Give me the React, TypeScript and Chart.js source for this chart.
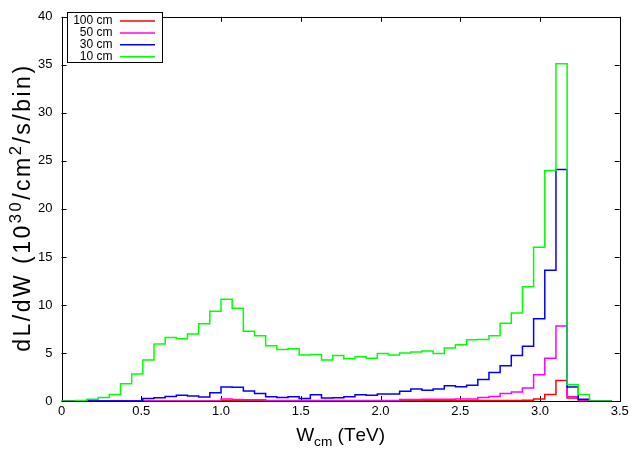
import { useEffect, useRef } from "react";
import { Chart, registerables } from "chart.js";
Chart.register(...registerables);

// Bin left edges (TeV); last entry closes the final bin
const binEdges = [
  0.02, 0.09, 0.16, 0.23, 0.3, 0.37, 0.44, 0.51, 0.58, 0.65,
  0.72, 0.79, 0.86, 0.93, 1.0, 1.07, 1.14, 1.21, 1.28, 1.35,
  1.42, 1.49, 1.56, 1.63, 1.7, 1.77, 1.84, 1.91, 1.98, 2.05,
  2.12, 2.19, 2.26, 2.33, 2.4, 2.47, 2.54, 2.61, 2.68, 2.75,
  2.82, 2.89, 2.96, 3.03, 3.1, 3.17, 3.24, 3.31, 3.38, 3.45,
];

const cm100 = [
  0, 0, 0, 0, 0, 0, 0, 0, 0, 0,
  0, 0, 0, 0, 0.05, 0.04, 0.03, 0.02, 0.02, 0.02,
  0.02, 0.02, 0.02, 0.02, 0.02, 0.02, 0.02, 0.02, 0.02, 0.02,
  0.02, 0.02, 0.03, 0.03, 0.03, 0.03, 0.04, 0.04, 0.05, 0.05,
  0.05, 0.08, 0.2, 0.68, 2.13, 0.3, 0.05, 0, 0,
];
const cm50 = [
  0, 0, 0, 0, 0, 0, 0, 0, 0, 0,
  0, 0, 0, 0, 0.22, 0.15, 0.12, 0.12, 0.05, 0.05,
  0.04, 0.04, 0.04, 0.04, 0.04, 0.05, 0.05, 0.05, 0.06, 0.06,
  0.15, 0.15, 0.17, 0.17, 0.18, 0.2, 0.22, 0.37, 0.47, 0.78,
  0.95, 1.36, 2.74, 4.44, 7.82, 0.44, 0.1, 0, 0,
];
const cm30 = [
  0, 0, 0, 0, 0, 0, 0, 0.25, 0.33, 0.47,
  0.6, 0.52, 0.42, 0.85, 1.46, 1.44, 1.05, 0.78, 0.44, 0.37,
  0.44, 0.27, 0.64, 0.3, 0.35, 0.44, 0.64, 0.6, 0.74, 0.74,
  1.02, 1.25, 1.12, 1.25, 1.59, 1.49, 1.65, 2.24, 2.98, 3.66,
  4.74, 5.69, 8.57, 13.6, 24.1, 1.46, 0.17, 0, 0,
];
const cm10 = [
  0, 0.05, 0.17, 0.37, 0.68, 1.8, 2.8, 4.27, 5.93, 6.6,
  6.47, 6.98, 8.05, 9.35, 10.6, 9.65, 7.25, 6.8, 5.76, 5.35,
  5.45, 4.78, 4.85, 4.27, 4.74, 4.4, 4.6, 4.44, 4.95, 4.78,
  5.01, 5.11, 5.21, 4.95, 5.52, 5.86, 6.37, 6.4, 6.8, 8.1,
  9.15, 11.9, 16.0, 24.0, 35.1, 1.69, 0.68, 0, 0,
];

const seriesLabels = ["100 cm", "50 cm", "30 cm", "10 cm"];
const seriesColors = ["#ff0000", "#ff00ff", "#0000ff", "#00ff00"];

const FONT = "'Liberation Sans', Arial, Helvetica, sans-serif";

function histPoints(vals: number[]) {
  const pts: { x: number; y: number }[] = [{ x: 0, y: 0 }];
  vals.forEach((v, i) => pts.push({ x: binEdges[i], y: v }));
  pts.push({ x: binEdges[vals.length], y: vals[vals.length - 1] });
  return pts;
}

type Part = { t: string; s?: number; dy?: number };

function drawRich(ctx: CanvasRenderingContext2D, parts: Part[], size: number, spacing = 0) {
  let total = 0;
  const glyphs: { ch: string; f: string; w: number; dy: number }[] = [];
  parts.forEach((p) => {
    const f = `${size * (p.s ?? 1)}px ${FONT}`;
    ctx.font = f;
    for (const ch of p.t) {
      const w = ctx.measureText(ch).width + spacing;
      glyphs.push({ ch, f, w, dy: (p.dy ?? 0) * size });
      total += w;
    }
  });
  total -= spacing;
  let x = -total / 2;
  glyphs.forEach((g) => {
    ctx.font = g.f;
    ctx.fillText(g.ch, x, g.dy);
    x += g.w;
  });
}

const framePlugin = {
  id: "gnuFrame",
  beforeDatasetsDraw(chart: any) {
    const { ctx, chartArea: a, scales } = chart;
    ctx.save();
    ctx.strokeStyle = "#000";
    ctx.lineWidth = 1;
    const tl = 5;
    ctx.beginPath();
    scales.x.ticks.forEach((t: any) => {
      const px = Math.round(scales.x.getPixelForValue(t.value)) + 0.5;
      ctx.moveTo(px, a.bottom);
      ctx.lineTo(px, a.bottom - tl);
      ctx.moveTo(px, a.top);
      ctx.lineTo(px, a.top + tl);
    });
    scales.y.ticks.forEach((t: any) => {
      const py = Math.round(scales.y.getPixelForValue(t.value)) + 0.5;
      ctx.moveTo(a.left, py);
      ctx.lineTo(a.left + tl, py);
      ctx.moveTo(a.right, py);
      ctx.lineTo(a.right - tl, py);
    });
    ctx.stroke();
    ctx.strokeRect(
      Math.round(a.left) + 0.5,
      Math.round(a.top) + 0.5,
      Math.round(a.right) - Math.round(a.left),
      Math.round(a.bottom) - Math.round(a.top)
    );
    ctx.restore();
  },
  afterDraw(chart: any) {
    const { ctx, chartArea: a } = chart;
    ctx.save();
    ctx.fillStyle = "#000";
    ctx.textBaseline = "alphabetic";
    // x title
    ctx.save();
    ctx.translate((a.left + a.right) / 2, 441);
    drawRich(ctx, [{ t: "W" }, { t: "cm", s: 0.72, dy: 0.25 }, { t: " (TeV)" }], 19);
    ctx.restore();
    // y title
    ctx.save();
    ctx.translate(30, (a.top + a.bottom) / 2);
    ctx.rotate(-Math.PI / 2);
    drawRich(
      ctx,
      [
        { t: "dL/dW (10" },
        { t: "30", s: 0.72, dy: -0.38 },
        { t: "/cm" },
        { t: "2", s: 0.72, dy: -0.38 },
        { t: "/s/bin)" },
      ],
      23,
      2.5
    );
    ctx.restore();
    // legend
    const bx = 67.5, by = 12.5, bw = 95, bh = 50;
    ctx.strokeStyle = "#000";
    ctx.lineWidth = 1;
    ctx.fillStyle = "#fff";
    ctx.fillRect(bx, by, bw, bh);
    ctx.strokeRect(bx, by, bw, bh);
    ctx.font = `12px ${FONT}`;
    ctx.textAlign = "right";
    ctx.textBaseline = "middle";
    seriesLabels.forEach((lab, i) => {
      const y = 21 + i * 11.9;
      ctx.fillStyle = "#000";
      ctx.fillText(lab, 112.5, y);
      ctx.strokeStyle = seriesColors[i];
      ctx.lineWidth = 1.5;
      ctx.beginPath();
      ctx.moveTo(120, y);
      ctx.lineTo(155, y);
      ctx.stroke();
    });
    ctx.restore();
  },
};

export default function App() {
  const ref = useRef<HTMLCanvasElement | null>(null);
  useEffect(() => {
    if (!ref.current) return;
    const all = [cm100, cm50, cm30, cm10];
    const chart = new Chart(ref.current, {
      type: "line",
      data: {
        datasets: all.map((vals, i) => ({
          label: seriesLabels[i],
          data: histPoints(vals),
          borderColor: seriesColors[i],
          backgroundColor: seriesColors[i],
          borderWidth: 1.5,
          pointRadius: 0,
          stepped: "before" as const,
          fill: false,
          order: 3 - i,
        })),
      },
      options: {
        animation: false,
        responsive: false,
        devicePixelRatio: 1,
        events: [],
        layout: { padding: { left: 0, top: 7.4, right: 12.25, bottom: 0 } },
        plugins: { legend: { display: false }, tooltip: { enabled: false } },
        scales: {
          x: {
            type: "linear",
            min: 0,
            max: 3.5,
            grid: { display: false, drawTicks: false },
            border: { display: false },
            ticks: {
              stepSize: 0.5,
              padding: 3,
              color: "#000",
              font: { family: FONT, size: 13 },
              maxRotation: 0,
            },
            afterFit: (s: any) => {
              s.height = 49;
            },
          },
          y: {
            type: "linear",
            min: 0,
            max: 40,
            grid: { display: false, drawTicks: false },
            border: { display: false },
            ticks: {
              stepSize: 5,
              padding: 9,
              color: "#000",
              font: { family: FONT, size: 13 },
            },
            afterFit: (s: any) => {
              s.width = 61.5;
            },
          },
        },
      },
      plugins: [framePlugin],
    });
    return () => chart.destroy();
  }, []);
  return (
    <div style={{ position: "fixed", left: 0, top: 0, width: 632, height: 450, background: "#fff" }}>
      <canvas ref={ref} width={632} height={450} style={{ width: 632, height: 450, display: "block" }} />
    </div>
  );
}
